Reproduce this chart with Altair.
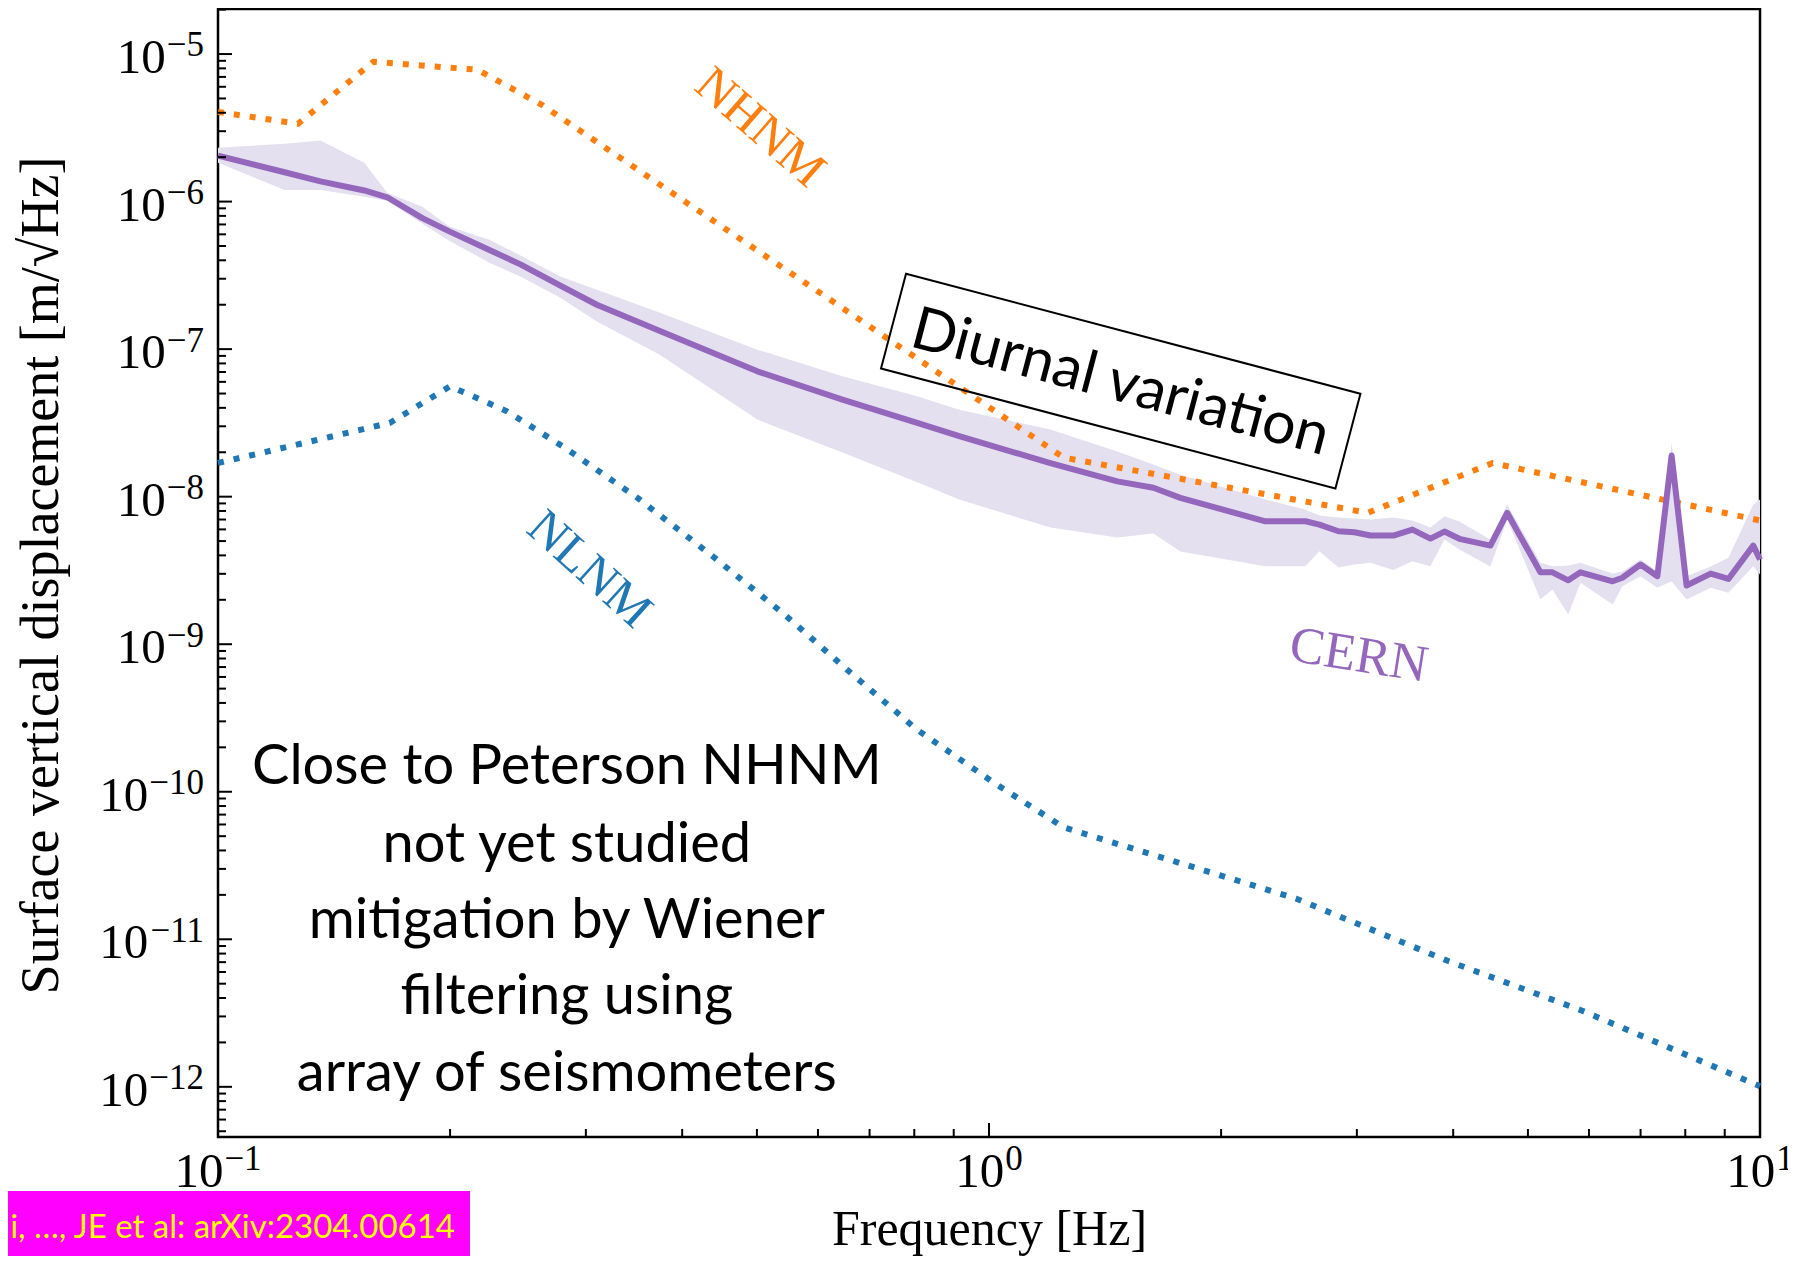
import altair as alt
import pandas as pd

# ---------------- data ----------------
cern_f = [0.100, 0.122, 0.1358, 0.1548, 0.1658, 0.1841, 0.1995, 0.2249, 0.2471, 0.278,
          0.31, 0.3736, 0.5006, 0.6455, 0.807, 0.915, 1.201, 1.467, 1.634, 1.771,
          2.283, 2.573, 2.682, 2.84, 2.978, 3.124, 3.346, 3.541, 3.737, 3.897,
          4.075, 4.47, 4.70, 5.19, 5.38, 5.64, 5.85, 6.44, 6.63, 7.0,
          7.36, 7.68, 8.03, 8.63, 9.10, 9.80, 10.0]
cern_med = [2.05e-6, 1.58e-6, 1.37e-6, 1.19e-6, 1.07e-6, 7.73e-7, 6.28e-7, 4.70e-7, 3.74e-7, 2.69e-7,
            2.00e-7, 1.33e-7, 7.07e-8, 4.55e-8, 3.16e-8, 2.57e-8, 1.69e-8, 1.27e-8, 1.15e-8, 9.81e-9,
            6.81e-9, 6.81e-9, 6.47e-9, 5.83e-9, 5.74e-9, 5.45e-9, 5.45e-9, 5.98e-9, 5.20e-9, 5.80e-9,
            5.18e-9, 4.66e-9, 7.77e-9, 3.07e-9, 3.07e-9, 2.71e-9, 3.07e-9, 2.67e-9, 2.82e-9, 3.47e-9,
            2.89e-9, 1.90e-8, 2.50e-9, 3.01e-9, 2.77e-9, 4.66e-9, 3.75e-9]
cern_hi = [2.32e-6, 2.47e-6, 2.59e-6, 1.83e-6, 1.15e-6, 9.23e-7, 6.79e-7, 5.52e-7, 4.30e-7, 3.11e-7,
           2.53e-7, 1.77e-7, 9.92e-8, 6.54e-8, 4.79e-8, 3.89e-8, 2.85e-8, 2.02e-8, 1.65e-8, 1.41e-8,
           9.56e-9, 8.18e-9, 7.45e-9, 7.22e-9, 7.10e-9, 7.00e-9, 7.22e-9, 6.89e-9, 6.18e-9, 7.37e-9,
           6.78e-9, 5.12e-9, 8.84e-9, 3.56e-9, 3.38e-9, 3.41e-9, 3.56e-9, 3.01e-9, 3.11e-9, 3.75e-9,
           3.11e-9, 2.32e-8, 2.89e-9, 3.36e-9, 3.85e-9, 8.84e-9, 9.56e-9]
cern_lo = [1.83e-6, 1.20e-6, 1.20e-6, 1.08e-6, 1.01e-6, 7.08e-7, 5.43e-7, 3.85e-7, 3.10e-7, 2.23e-7,
           1.54e-7, 9.18e-8, 3.33e-8, 1.99e-8, 1.25e-8, 9.56e-9, 6.18e-9, 5.28e-9, 5.62e-9, 4.25e-9,
           3.38e-9, 3.38e-9, 4.27e-9, 3.31e-9, 3.47e-9, 3.56e-9, 3.19e-9, 3.65e-9, 3.38e-9, 5.12e-9,
           4.38e-9, 3.36e-9, 6.99e-9, 2.01e-9, 2.35e-9, 1.59e-9, 2.61e-9, 1.86e-9, 2.47e-9, 2.89e-9,
           2.41e-9, 2.67e-9, 2.01e-9, 2.41e-9, 2.23e-9, 3.38e-9, 2.97e-9]

nhnm_f = [0.1, 0.127, 0.159, 0.217, 0.263, 1.25, 3.1, 4.5, 10.0]
nhnm_v = [4.05e-6, 3.37e-6, 8.87e-6, 7.83e-6, 4.53e-6, 1.84e-8, 7.77e-9, 1.69e-8, 6.9e-9]

nlnm_f = [0.1, 0.167, 0.2, 0.237, 0.282, 0.35, 0.438, 0.543, 0.654, 0.806,
          1.015, 1.25, 2.5, 3.94, 5.88, 10.0]
nlnm_v = [1.69e-8, 3.16e-8, 5.60e-8, 3.79e-8, 2.14e-8, 9.81e-9, 3.95e-9, 1.59e-9, 6.74e-10, 2.64e-10,
          1.15e-10, 5.73e-11, 1.89e-11, 7.12e-12, 3.28e-12, 1.01e-12]

# tick labels: base "10" with these exponents
x_major = [0.1, 1.0, 10.0]
x_exp_labels = ["−1", "0", "1"]
y_major = [1e-5, 1e-6, 1e-7, 1e-8, 1e-9, 1e-10, 1e-11, 1e-12]
y_exp_labels = ["−5", "−6", "−7", "−8", "−9", "−10", "−11", "−12"]

X_DOMAIN = [0.1, 10.0]
Y_DOMAIN = [4.57e-13, 2.02e-5]

x_minor = [k * 10.0 ** e for e in (-1, 0) for k in range(2, 10)]
y_minor = [k * 10.0 ** e for e in range(-13, -4) for k in range(2, 10)
           if Y_DOMAIN[0] <= k * 10.0 ** e <= Y_DOMAIN[1]]

# annotations (data coordinates)
notes_lines = ["Close to Peterson NHNM", "not yet studied", "mitigation by Wiener",
               "filtering using", "array of seismometers"]
notes_y = [1.556e-10, 4.61e-11, 1.42e-11, 4.30e-12, 1.31e-12]
notes_x = 0.2834

# ---------------- chart ----------------
W, H = 1542, 1128
xs = alt.Scale(type="log", domain=X_DOMAIN, nice=False)
ys = alt.Scale(type="log", domain=Y_DOMAIN, nice=False)

SERIF = "Liberation Serif"
SANS = "Lato"
ORANGE, BLUE, PURPLE = "#ff7f0e", "#1f77b4", "#9467bd"
BASE_FS, EXP_FS = 49, 35

cern = pd.DataFrame({"f": cern_f, "med": cern_med, "lo": cern_lo, "hi": cern_hi})
nhnm = pd.DataFrame({"f": nhnm_f, "v": nhnm_v})
nlnm = pd.DataFrame({"f": nlnm_f, "v": nlnm_v})

x_axis = alt.Axis(values=x_major, labels=False, ticks=False, domain=False, grid=False,
                  title="Frequency [Hz]", titleFont=SERIF, titleFontSize=50, titleFontWeight="normal",
                  titleColor="black", titleY=107, titleBaseline="alphabetic")
y_axis = alt.Axis(values=y_major, labels=False, ticks=False, domain=False, grid=False,
                  title="Surface vertical displacement [m/√Hz]", titleFont=SERIF, titleFontSize=54,
                  titleFontWeight="normal", titleColor="black", titleAngle=270,
                  titleX=-161, titleY=566, titleBaseline="alphabetic", titleAlign="center")

band = alt.Chart(cern).mark_area(color="#e4e0f0", opacity=1).encode(
    x=alt.X("f:Q", scale=xs, axis=x_axis),
    y=alt.Y("lo:Q", scale=ys, axis=y_axis),
    y2="hi:Q",
)

dots = dict(strokeWidth=6, strokeDash=[6, 10], strokeCap="butt")
nlnm_line = alt.Chart(nlnm).mark_line(color=BLUE, **dots).encode(
    x=alt.X("f:Q", scale=xs), y=alt.Y("v:Q", scale=ys))
nhnm_line = alt.Chart(nhnm).mark_line(color=ORANGE, **dots).encode(
    x=alt.X("f:Q", scale=xs), y=alt.Y("v:Q", scale=ys))
cern_line = alt.Chart(cern).mark_line(color=PURPLE, strokeWidth=6, strokeJoin="round").encode(
    x=alt.X("f:Q", scale=xs), y=alt.Y("med:Q", scale=ys))


# inward ticks
def yticks(vals, length):
    return alt.Chart(pd.DataFrame({"v": vals})).mark_rule(color="black", strokeWidth=2).encode(
        y=alt.Y("v:Q", scale=ys), x=alt.value(0), x2=alt.value(length))


def xticks(vals, length):
    return alt.Chart(pd.DataFrame({"f": vals})).mark_rule(color="black", strokeWidth=2).encode(
        x=alt.X("f:Q", scale=xs), y=alt.value(H), y2=alt.value(H - length))


def exp_width(s):
    n_minus = s.count("−")
    return EXP_FS * (0.564 * n_minus + 0.5 * (len(s) - n_minus))


tick_labels = []
for v, s in zip(y_major, y_exp_labels):
    d = pd.DataFrame({"v": [v], "e": [s]})
    w = exp_width(s)
    tick_labels.append(alt.Chart(d).mark_text(
        text="10", font=SERIF, fontSize=BASE_FS, color="black", align="right", baseline="middle", dy=4
    ).encode(x=alt.value(-14 - w - 1), y=alt.Y("v:Q", scale=ys)))
    tick_labels.append(alt.Chart(d).mark_text(
        font=SERIF, fontSize=EXP_FS, color="black", align="right", baseline="middle", dy=-8.6
    ).encode(x=alt.value(-14), y=alt.Y("v:Q", scale=ys), text="e:N"))

for f, s in zip(x_major, x_exp_labels):
    d = pd.DataFrame({"f": [f], "e": [s]})
    w = exp_width(s)
    total = BASE_FS + 1 + w
    tick_labels.append(alt.Chart(d).mark_text(
        text="10", font=SERIF, fontSize=BASE_FS, color="black", align="right", baseline="middle",
        dx=BASE_FS - total / 2, dy=35
    ).encode(x=alt.X("f:Q", scale=xs), y=alt.value(H)))
    tick_labels.append(alt.Chart(d).mark_text(
        font=SERIF, fontSize=EXP_FS, color="black", align="left", baseline="middle",
        dx=BASE_FS + 1 - total / 2, dy=22
    ).encode(x=alt.X("f:Q", scale=xs), y=alt.value(H), text="e:N"))

labels = pd.DataFrame({
    "f": [0.5045, 0.3032, 3.017],
    "v": [3.17e-6, 3.21e-9, 8.41e-10],
    "t": ["NHNM", "NLNM", "CERN"],
})


def label(i, color, angle, size):
    return alt.Chart(labels.iloc[[i]]).mark_text(
        font=SERIF, fontSize=size, color=color, angle=angle, align="center", baseline="middle"
    ).encode(x=alt.X("f:Q", scale=xs), y=alt.Y("v:Q", scale=ys), text="t:N")


diurnal = pd.DataFrame({"f": [1.482], "v": [6.07e-8], "t": ["Diurnal variation"]})
box = alt.Chart(diurnal).mark_point(
    shape="M-1,-0.2085L1,-0.2085L1,0.2085L-1,0.2085Z", size=470 ** 2, angle=14.8,
    filled=False, stroke="black", strokeWidth=2, opacity=1,
).encode(x=alt.X("f:Q", scale=xs), y=alt.Y("v:Q", scale=ys))
box_text = alt.Chart(diurnal).mark_text(
    font=SANS, fontSize=59, color="black", angle=14.8, align="center", baseline="middle", dy=2
).encode(x=alt.X("f:Q", scale=xs), y=alt.Y("v:Q", scale=ys), text="t:N")

notes = pd.DataFrame({"f": [notes_x] * len(notes_lines), "v": notes_y, "t": notes_lines})
notes_text = alt.Chart(notes).mark_text(
    font=SANS, fontSize=56, color="black", align="center", baseline="middle", dy=4
).encode(x=alt.X("f:Q", scale=xs), y=alt.Y("v:Q", scale=ys), text="t:N")

cite = pd.DataFrame({"t": ["i, …, JE et al: arXiv:2304.00614"]})
cite_box = alt.Chart(cite).mark_rect(color="#ff00ff").encode(
    x=alt.value(-210), x2=alt.value(252), y=alt.value(1182), y2=alt.value(1250))
cite_text = alt.Chart(cite).mark_text(
    font=SANS, fontSize=33, color="#ffff00", align="right", baseline="middle"
).encode(x=alt.value(237), y=alt.value(1219), text="t:N")

chart = alt.layer(
    band, nlnm_line, nhnm_line, cern_line,
    yticks(y_major, 14), yticks(y_minor, 8), xticks(x_major, 14), xticks(x_minor, 8),
    *tick_labels,
    label(0, ORANGE, 41, 50), label(1, BLUE, 42, 50), label(2, PURPLE, 9, 52),
    box, box_text, notes_text, cite_box, cite_text,
).properties(
    width=W, height=H,
    autosize=alt.AutoSizeParams(type="none"),
    padding={"left": 210, "top": 1, "right": 28, "bottom": 119},
    background="white",
).configure_view(stroke="black", strokeWidth=2.5)

chart.save("out.html", embed_options={"renderer": "svg", "actions": False})
